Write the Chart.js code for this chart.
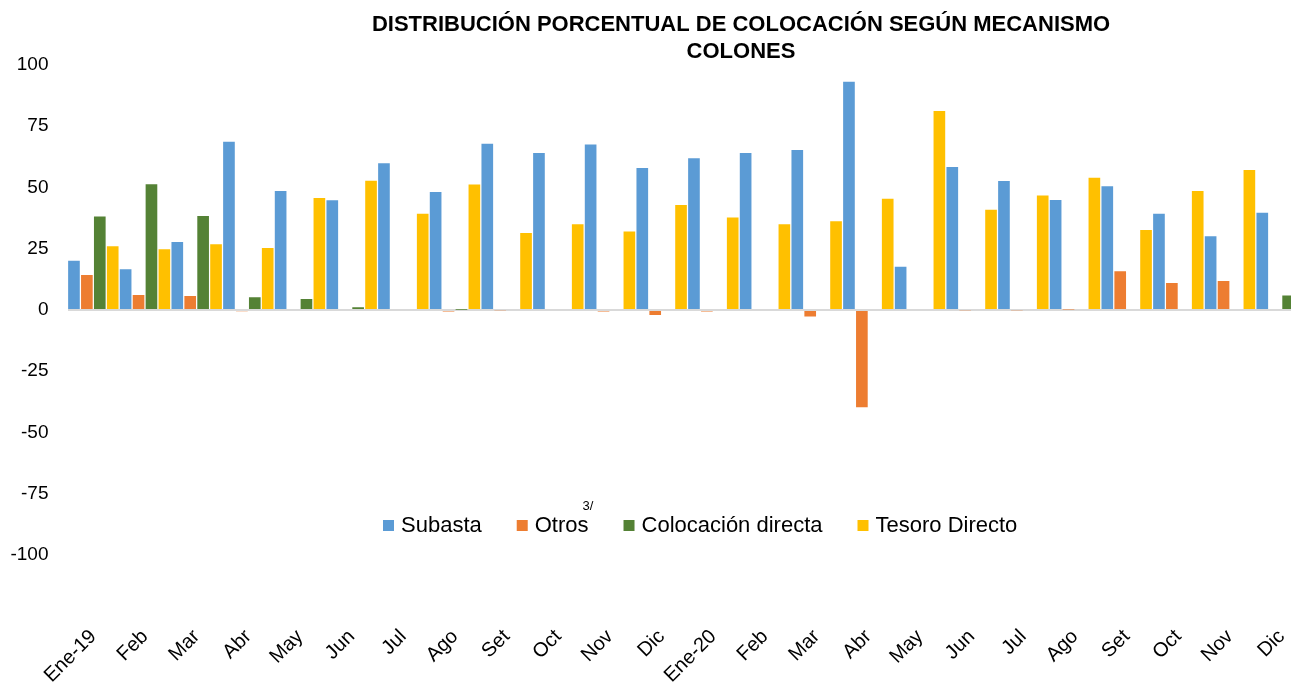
<!DOCTYPE html>
<html>
<head>
<meta charset="utf-8">
<script src="https://cdn.jsdelivr.net/npm/chart.js@4.4.1/dist/chart.umd.min.js"></script>
<style>
  html, body { margin: 0; padding: 0; background: #fff; overflow: hidden; }
  #wrap { width: 1291px; height: 687px; overflow: hidden; }
</style>
</head>
<body>
<div id="wrap"><canvas id="chart" width="1310" height="687"></canvas></div>
<script>
const categories = ["Ene-19", "Feb", "Mar", "Abr", "May", "Jun", "Jul", "Ago", "Set", "Oct", "Nov", "Dic",
    "Ene-20", "Feb", "Mar", "Abr", "May", "Jun", "Jul", "Ago", "Set", "Oct", "Nov", "Dic"];

const subasta    = [20.1, 16.6, 27.8, 68.7, 48.6, 44.8, 59.9, 48.2, 67.9, 64.1, 67.6, 58.0,
                    61.9, 64.1, 65.3, 93.2, 17.7, 58.4, 52.7, 44.9, 50.5, 39.3, 30.1, 39.7];
const otros      = [14.3, 6.1, 5.7, -0.5, 0, 0, 0, -0.6, -0.3, 0, -0.6, -2.0,
                    -0.6, 0, -2.7, -39.7, 0, -0.3, -0.3, 0.2, 15.8, 11.0, 11.8, 0];
const colocacion = [38.2, 51.3, 38.4, 5.2, 4.5, 1.1, 0, 0.1, 0, 0, 0, 0,
                    0, 0, 0, 0, 0, 0, 0, 0, 0, 0, 0, 5.9];
const tesoro     = [26.0, 24.8, 26.8, 25.3, 45.7, 52.8, 39.3, 51.2, 31.4, 35.0, 32.0, 42.9,
                    37.8, 35.0, 36.2, 45.4, 81.2, 40.9, 46.7, 54.0, 32.7, 48.6, 57.1, 50.0];

const titleLines = ["DISTRIBUCIÓN PORCENTUAL DE COLOCACIÓN SEGÚN MECANISMO", "COLONES"];

const FONT = "'Liberation Sans', Arial, sans-serif";

// title + legend drawn by hand, the legend sits inside the plot like in Excel
const decorations = {
    id: "decorations",
    afterDraw(chart) {
        const ctx = chart.ctx;
        ctx.save();
        ctx.fillStyle = "#000";
        ctx.textAlign = "center";
        ctx.textBaseline = "middle";
        ctx.font = "bold 22px " + FONT;
        ctx.fillText(titleLines[0], 741, 25);
        ctx.fillText(titleLines[1], 741, 52);

        ctx.font = "22px " + FONT;
        ctx.textAlign = "left";
        let x = 383;
        const y = 525;
        chart.data.datasets.forEach((ds) => {
            ctx.fillStyle = ds.backgroundColor;
            ctx.fillRect(x, y - 5, 11, 11);
            ctx.fillStyle = "#000";
            ctx.fillText(ds.label, x + 18, y + 1);
            const w = ctx.measureText(ds.label).width;
            if (ds.label === "Otros") {
                ctx.save();
                ctx.font = "13px " + FONT;
                ctx.fillText("3/", x + 18 + w - 6, y - 19);
                ctx.restore();
            }
            x += 18 + w + 35;
        });
        ctx.restore();
    }
};

const ctx = document.getElementById("chart").getContext("2d");
window.colocChart = new Chart(ctx, {
    type: "bar",
    data: {
        labels: categories,
        datasets: [
            { label: "Subasta", data: subasta, backgroundColor: "#5B9BD5" },
            { label: "Otros", data: otros, backgroundColor: "#ED7D31" },
            { label: "Colocación directa", data: colocacion, backgroundColor: "#548235" },
            { label: "Tesoro Directo", data: tesoro, backgroundColor: "#FFC000" },
        ],
    },
    options: {
        responsive: false,
        animation: false,
        layout: { padding: { top: 65, right: 2.5, left: 0, bottom: 0 } },
        datasets: { bar: { barPercentage: 0.903, categoryPercentage: 1.0, borderWidth: 0 } },
        plugins: {
            legend: { display: false },
            title: { display: false },
            tooltip: { enabled: false },
        },
        scales: {
            x: {
                grid: { display: false },
                border: { display: false },
                ticks: {
                    autoSkip: false,
                    maxRotation: 45,
                    minRotation: 45,
                    padding: 62,
                    color: "#000",
                    font: { family: FONT, size: 20 },
                },
                afterFit: (scale) => {
                    scale.height = 132;
                    scale.paddingLeft = 0;
                    scale.paddingRight = 0;
                },
            },
            y: {
                min: -100,
                max: 100,
                border: { display: false },
                grid: {
                    drawTicks: false,
                    lineWidth: 2,
                    color: (c) => (c.tick && c.tick.value === 0 ? "#D9D9D9" : "rgba(0,0,0,0)"),
                },
                ticks: {
                    stepSize: 25,
                    padding: 19,
                    color: "#000",
                    font: { family: FONT, size: 19 },
                },
                afterFit: (scale) => {
                    scale.width = 67.5;
                    scale.paddingTop = 0;
                    scale.paddingBottom = 0;
                },
            },
        },
    },
    plugins: [decorations],
});
</script>
</body>
</html>
